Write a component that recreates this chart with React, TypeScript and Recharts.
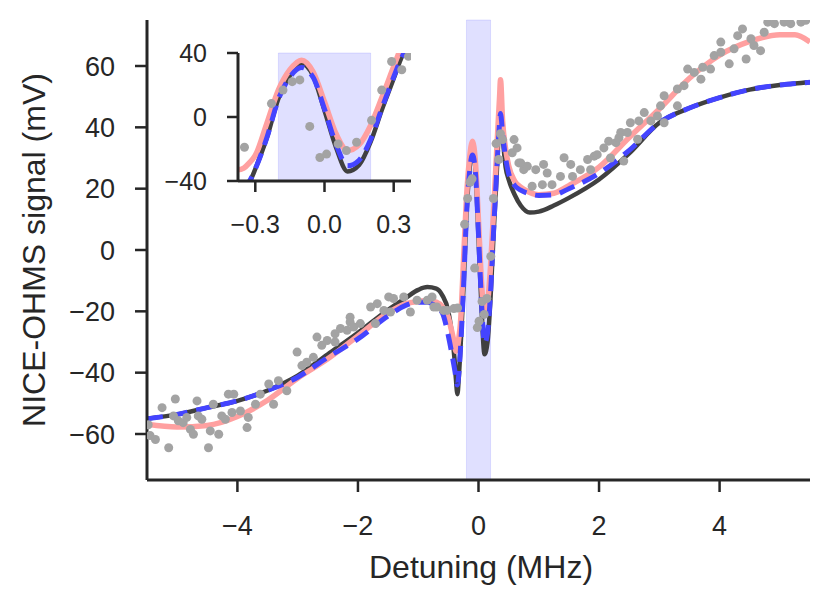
import React from 'react';
import { ComposedChart, Line, Scatter, XAxis, YAxis, ReferenceArea } from 'recharts';

// fitted curves, sampled on a shared detuning grid (MHz)
const fitX = [
  -5.5, -5, -4.5, -4, -3.5, -3, -2.5, -2, -1.5, -1.2, -1, -0.85, -0.7, -0.6, -0.5, -0.45, -0.4, -0.375,
  -0.35, -0.325, -0.3, -0.25, -0.2, -0.15, -0.1, -0.05, 0, 0.05, 0.1, 0.15, 0.2, 0.25, 0.3, 0.325, 0.35,
  0.365, 0.4, 0.45, 0.5, 0.6, 0.7, 0.85, 1, 1.25, 1.5, 2, 2.5, 3, 3.5, 4, 4.5, 5, 5.25, 5.5,
];
const fitDark = [
  -55, -53.6, -51.4, -49.2, -45.8, -41, -34, -27, -19.5, -15.5, -13, -12.1, -12.6, -14.8, -20, -26, -35, -42,
  -47, -41, -32.5, -13, 11.5, 26, 33.5, 26, 4, -19, -34, -30, -15.5, 5, 24, 34, 42,
  44.5, 37, 27, 23, 18, 14.5, 12.2, 12.5, 14.5, 17, 23, 31.5, 41.5, 46.3, 49.7, 52.3, 53.8, 54.3, 54.7,
];
const fitBlue = [
  -55, -53.6, -51.4, -49.2, -45.8, -41.5, -35, -29, -21.5, -18, -17, -17, -18.5, -20.5, -28, -33, -38.5, -41.5,
  -44, -40, -32.5, -13, 11, 25, 31, 25, 5, -17, -30.5, -27, -14, 6, 25, 34, 41.5,
  44.5, 38, 30, 25, 21, 19.5, 18.3, 17.8, 18, 20, 25, 32.5, 41.5, 46.3, 49.7, 52.3, 53.8, 54.3, 54.7,
];
const fitPink = [
  -56.8, -57.7, -57.2, -54.3, -49, -41.8, -35.5, -28, -20.5, -17.5, -16.8, -16.5, -17, -18.5, -22, -26, -30.5, -33,
  -32, -28.5, -24, -4, 16.8, 29.5, 35.5, 28.4, 9.5, -10.5, -21, -17.3, -5.3, 12.6, 31.6, 41, 50,
  55.5, 42, 33, 27.5, 22.5, 20.5, 18.8, 18, 18.5, 21, 27, 36.7, 46, 56, 63.5, 68, 70.2, 70.2, 67.8,
];

// measured points
const pointsX = [
  -5.48, -5.45, -5.36, -5.25, -5.14, -5.06, -5.03, -4.98, -4.9, -4.84, -4.78, -4.73, -4.67, -4.65, -4.59, -4.48,
  -4.45, -4.4, -4.31, -4.26, -4.2, -4.15, -4.09, -4.06, -3.95, -3.84, -3.82, -3.7, -3.62, -3.48, -3.4, -3.32,
  -3.18, -3.01, -2.93, -2.85, -2.74, -2.68, -2.6, -2.51, -2.38, -2.38, -2.29, -2.18, -2.13, -2.13, -2.07, -1.96,
  -1.79, -1.71, -1.68, -1.57, -1.49, -1.46, -1.41, -1.24, -1.13, -1.02, -0.85, -0.77, -0.74, -0.69, -0.58, -0.52,
  -0.41, -0.347, -0.23, -0.18, -0.14, -0.107, -0.064, -0.02, 0.009, 0.059, 0.095, 0.139, 0.204, 0.248, 0.291, 0.335,
  0.364, 0.4, 0.56, 0.59, 0.64, 0.67, 0.7, 0.75, 0.81, 0.89, 0.95, 1.06, 1.08, 1.14, 1.22, 1.36,
  1.42, 1.53, 1.56, 1.69, 1.81, 1.86, 1.92, 1.97, 2.08, 2.16, 2.19, 2.28, 2.33, 2.36, 2.41, 2.47,
  2.52, 2.64, 2.66, 2.75, 2.86, 2.97, 3.02, 3.08, 3.08, 3.3, 3.3, 3.41, 3.47, 3.58, 3.69, 3.72,
  3.85, 3.91, 4.02, 4.02, 4.16, 4.24, 4.3, 4.38, 4.44, 4.52, 4.57, 4.68, 4.74, 4.8, 4.91, 5.07,
  5.18, 5.35, 5.43,
];
const pointsY = [
  -57, -60.5, -61.8, -51.4, -64.5, -54.1, -48.6, -55.7, -56.3, -54.6, -58.5, -60.1, -49.2, -54.1, -55.2, -64.5,
  -59, -50.3, -60.1, -54.1, -55.2, -47, -53, -47, -52.5, -57.9, -54.6, -50.3, -47, -43.7, -50.3, -42.6,
  -45.9, -33.3, -37.7, -36.6, -35, -28.4, -31.1, -29.5, -27.3, -30, -25.6, -26.2, -21.9, -23.5, -25.1, -24,
  -18.6, -24, -17.5, -19.7, -15.3, -20.2, -15.8, -15.3, -20.2, -16.4, -16.4, -15.3, -18.6, -18.6, -19.7, -19.7,
  -19.1, -18.9, 8.4, 16.8, 22.1, 23.2, -5.9, -25.3, -23.2, -16.8, -21, -15.8, -2.1, 16.8, 34.7, 29.5,
  37.9, 36, 31.7, 36, 33.3, 28.4, 28.4, 26.2, 27.3, 20.8, 26.2, 21.3, 27.9, 25.1, 21.3, 24,
  30.1, 27.9, 24, 26.2, 29.5, 26.2, 30.6, 31.1, 33.3, 35.5, 30, 35, 36.6, 38.3, 29, 38.3,
  41.5, 36.1, 42.1, 44.8, 42.1, 43.7, 47, 41.5, 50.3, 47, 52.5, 53.6, 59, 57.9, 55.7, 59.6,
  59, 63.4, 67.8, 64.5, 60.7, 65.6, 69.9, 72.1, 62.3, 68.9, 66.7, 65, 71, 74.3, 73.8, 74.3,
  73.8, 74.3, 74.9,
];

const mainXTicks = [-4, -2, 0, 2, 4];
const mainYTicks = [-60, -40, -20, 0, 20, 40, 60];
const insetXTicks = [-0.3, 0, 0.3];
const insetYTicks = [-40, 0, 40];
const band = [-0.2, 0.2];

const INK = '#262626';
const FONT = '"Liberation Sans", Arial, Helvetica, sans-serif';

const rows = (ys: number[]) => fitX.map((x, i) => ({ x, y: ys[i] }));
const darkRows = rows(fitDark);
const blueRows = rows(fitBlue);
const pinkRows = rows(fitPink);
const pointRows = pointsX.map((x, i) => ({ x, y: pointsY[i] }));
const insetPoints = pointRows.filter((p) => Math.abs(p.x) <= 0.375 && Math.abs(p.y) <= 40);

const fmt = (digits: number) => (v: number) => {
  const s = Math.abs(v).toFixed(digits);
  return v < 0 ? '\u2212' + s : s;
};

const Dot = (p: any) => <circle cx={p.cx} cy={p.cy} r={4.5} fill="#a3a3a3" />;

function layers(points: { x: number; y: number }[]) {
  return [
    <ReferenceArea key="band" x1={band[0]} x2={band[1]} fill="#0000ff" fillOpacity={0.12} stroke="#0000ff" strokeOpacity={0.1} />,
    <Scatter key="pts" data={points} dataKey="y" shape={Dot} isAnimationActive={false} />,
    <Line key="dark" data={darkRows} dataKey="y" type="monotone" stroke="#404040" strokeWidth={4.5} dot={false} activeDot={false} isAnimationActive={false} />,
    <Line key="pink" data={pinkRows} dataKey="y" type="monotone" stroke="#ffa0a0" strokeWidth={5.5} dot={false} activeDot={false} isAnimationActive={false} />,
    <Line key="blue" data={blueRows} dataKey="y" type="monotone" stroke="#4444ff" strokeWidth={5} strokeDasharray="16 9" dot={false} activeDot={false} isAnimationActive={false} />,
  ];
}

export default function App() {
  const axisLine = { stroke: INK, strokeWidth: 3 };
  const tickLine = { stroke: INK, strokeWidth: 2.5 };
  return (
    <div style={{ position: 'absolute', left: 0, top: 0, width: 830, height: 606, background: '#fff' }}>
      <ComposedChart width={830} height={606} margin={{ top: 20, right: 20, bottom: 0, left: 0 }}>
        <XAxis
          type="number"
          dataKey="x"
          domain={[-5.5, 5.5]}
          ticks={mainXTicks}
          tickFormatter={fmt(0)}
          allowDataOverflow
          height={126}
          tickSize={12}
          tickMargin={24}
          axisLine={axisLine}
          tickLine={tickLine}
          tick={{ fill: INK, fontSize: 27, fontFamily: FONT }}
        />
        <YAxis
          type="number"
          dataKey="y"
          domain={[-75, 75]}
          ticks={mainYTicks}
          tickFormatter={fmt(0)}
          allowDataOverflow
          width={147}
          tickSize={12}
          tickMargin={20}
          axisLine={axisLine}
          tickLine={tickLine}
          tick={{ fill: INK, fontSize: 27, fontFamily: FONT }}
        />
        {layers(pointRows)}
      </ComposedChart>

      <div style={{ position: 'absolute', left: 150, top: 20, width: 280, height: 220 }}>
        <ComposedChart width={280} height={220} margin={{ top: 33, right: 19, bottom: 0, left: 0 }}>
          <XAxis
            type="number"
            dataKey="x"
            domain={[-0.375, 0.375]}
            ticks={insetXTicks}
            tickFormatter={fmt(1)}
            allowDataOverflow
            height={59}
            tickSize={11}
            tickMargin={23}
            axisLine={axisLine}
            tickLine={tickLine}
            tick={{ fill: INK, fontSize: 25, fontFamily: FONT }}
          />
          <YAxis
            type="number"
            dataKey="y"
            domain={[-40, 40]}
            ticks={insetYTicks}
            tickFormatter={fmt(0)}
            allowDataOverflow
            width={88}
            tickSize={11}
            tickMargin={20}
            axisLine={axisLine}
            tickLine={tickLine}
            tick={{ fill: INK, fontSize: 25, fontFamily: FONT }}
          />
          {layers(insetPoints)}
        </ComposedChart>
      </div>

      <svg width={830} height={606} style={{ position: 'absolute', left: 0, top: 0, pointerEvents: 'none' }}>
        <text x={481} y={578} textAnchor="middle" fontSize={32} fontFamily={FONT} fill={INK}>
          Detuning (MHz)
        </text>
        <text x={45} y={250} transform="rotate(-90 45 250)" textAnchor="middle" fontSize={32} fontFamily={FONT} fill={INK}>
          NICE-OHMS signal (mV)
        </text>
      </svg>
    </div>
  );
}
